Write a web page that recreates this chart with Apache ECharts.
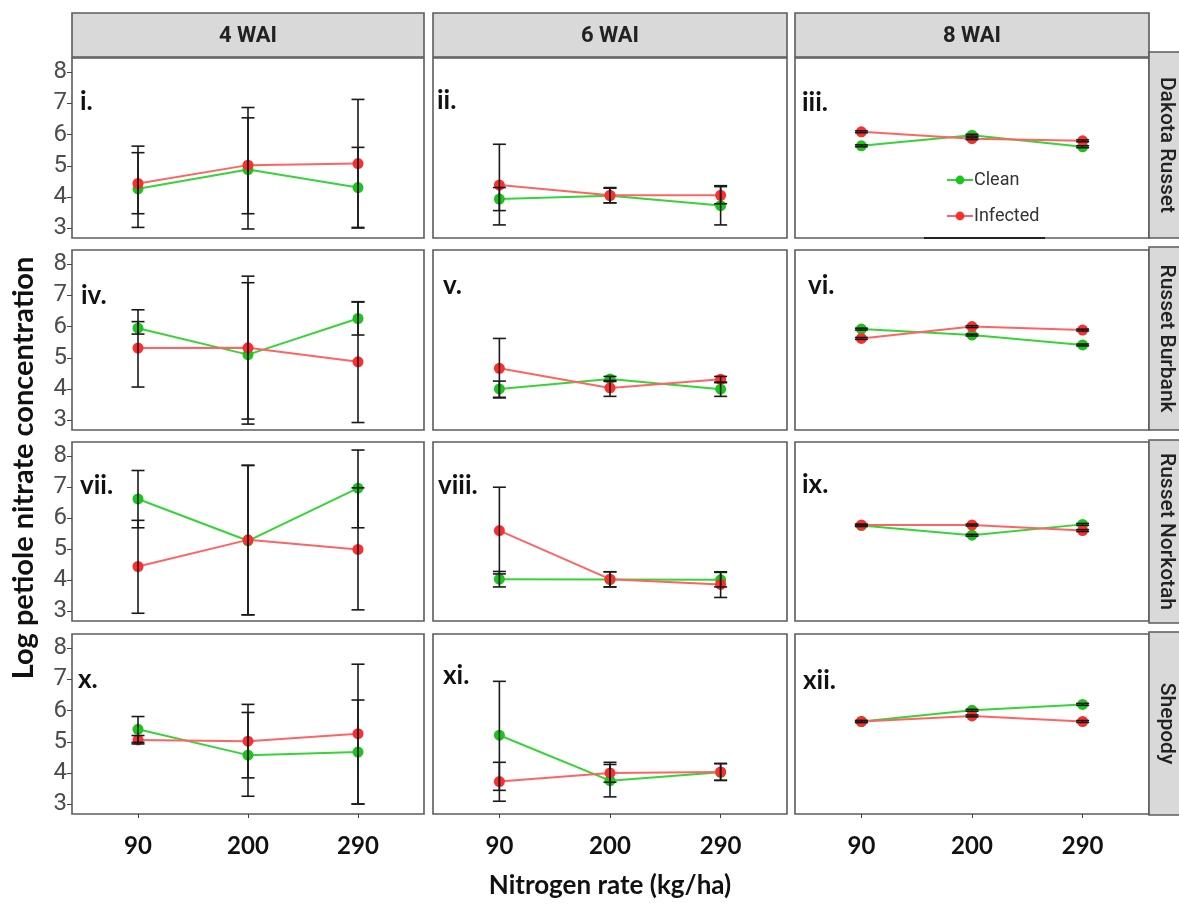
<!DOCTYPE html>
<html>
<head>
<meta charset="utf-8">
<script src="https://cdn.jsdelivr.net/npm/echarts@6/dist/echarts.min.js"></script>
<style>
html,body{margin:0;padding:0;background:#fff;}
#chart{width:1179px;height:905px;}
</style>
</head>
<body>
<div id="chart"></div>
<script>
// ---------- DATA ----------
const nitrogenLabels = ['90', '200', '290'];
const weekLabels = ['4 WAI', '6 WAI', '8 WAI'];
const cultivars = ['Dakota Russet', 'Russet Burbank', 'Russet Norkotah', 'Shepody'];
const panelLabels = ['i.', 'ii.', 'iii.', 'iv.', 'v.', 'vi.', 'vii.', 'viii.', 'ix.', 'x.', 'xi.', 'xii.'];
const yTicks = [3, 4, 5, 6, 7, 8];
const seriesNames = ['Clean', 'Infected'];

// panel order: row-major (cultivar rows, WAI columns); values at N = 90, 200, 290
const cleanMean = [
  [4.26, 4.88, 4.30], [3.93, 4.04, 3.72], [5.64, 5.98, 5.61],
  [5.95, 5.10, 6.26], [4.00, 4.32, 3.99], [5.92, 5.73, 5.41],
  [6.62, 5.27, 6.97], [4.03, 4.02, 4.01], [5.76, 5.45, 5.80],
  [5.40, 4.57, 4.67], [5.21, 3.75, 4.02], [5.65, 6.01, 6.20]
];
const infectedMean = [
  [4.43, 5.02, 5.07], [4.38, 4.05, 4.05], [6.09, 5.87, 5.80],
  [5.31, 5.32, 4.87], [4.66, 4.03, 4.31], [5.62, 6.00, 5.89],
  [4.44, 5.30, 4.99], [5.60, 4.03, 3.86], [5.78, 5.78, 5.60],
  [5.06, 5.02, 5.26], [3.72, 4.00, 4.03], [5.65, 5.83, 5.65]
];
const cleanLow = [
  [3.02, 2.97, 3.02], [3.56, 3.81, 3.10], [5.61, 5.95, 5.58],
  [5.76, 2.87, 5.73], [3.73, 4.24, 3.76], [5.89, 5.70, 5.38],
  [5.69, 2.88, 5.69], [3.78, 3.78, 3.78], [5.73, 5.42, 5.77],
  [4.98, 3.25, 3.00], [3.44, 3.23, 3.76], [5.62, 5.98, 6.17]
];
const cleanHigh = [
  [5.42, 6.87, 5.59], [4.30, 4.28, 4.33], [5.67, 6.01, 5.64],
  [6.16, 7.41, 6.79], [4.25, 4.40, 4.20], [5.95, 5.76, 5.44],
  [7.54, 7.70, 8.20], [4.28, 4.27, 4.27], [5.79, 5.48, 5.83],
  [5.81, 5.94, 6.34], [6.94, 4.27, 4.30], [5.68, 6.04, 6.23]
];
const infectedLow = [
  [3.46, 3.46, 3.00], [3.10, 3.81, 3.78], [6.06, 5.84, 5.77],
  [4.06, 3.03, 2.92], [3.71, 3.76, 4.22], [5.59, 5.97, 5.86],
  [2.93, 2.88, 3.04], [4.20, 3.78, 3.44], [5.75, 5.75, 5.57],
  [4.93, 3.84, 3.00], [3.09, 3.70, 3.76], [5.62, 5.80, 5.62]
];
const infectedHigh = [
  [5.63, 6.54, 7.13], [5.69, 4.30, 4.36], [6.12, 5.90, 5.83],
  [6.54, 7.62, 6.80], [5.62, 4.27, 4.40], [5.65, 6.03, 5.92],
  [5.93, 7.71, 6.98], [7.00, 4.27, 4.25], [5.81, 5.81, 5.63],
  [5.20, 6.20, 7.49], [4.34, 4.34, 4.30], [5.68, 5.86, 5.68]
];

// ---------- LAYOUT / STYLE ----------
const colX = [[72, 424], [433, 787], [795, 1149]];
const rowY = [[58, 238], [250, 430], [442, 621], [634, 814]];
const stripRowY = [[52, 238], [247, 430], [440, 623], [632, 815]];
const labelPos = [
  [80, 89], [437, 88], [802, 90],
  [81, 283], [443, 273], [808, 273],
  [80, 473], [438, 473], [802, 472],
  [78, 667], [443, 663], [803, 668]
];
const NARROW = "Roboto, 'Liberation Sans', sans-serif";
const BOLD = "Lato, 'Open Sans', sans-serif";
const GREEN = '#1cc41c', RED = '#ff2d2d';
const GREEN_LINE = '#36d436', RED_LINE = '#ff6464';

function errRender(params, api) {
  const x = api.value(0), lo = api.value(1), hi = api.value(2);
  const pH = api.coord([x, hi]);
  const pL = api.coord([x, lo]);
  const hw = 6.5;
  const st = { stroke: '#1a1a1a', lineWidth: 1.6 };
  return {
    type: 'group',
    children: [
      { type: 'line', shape: { x1: pH[0], y1: pH[1], x2: pL[0], y2: pL[1] }, style: st },
      { type: 'line', shape: { x1: pH[0] - hw, y1: pH[1], x2: pH[0] + hw, y2: pH[1] }, style: st },
      { type: 'line', shape: { x1: pL[0] - hw, y1: pL[1], x2: pL[0] + hw, y2: pL[1] }, style: st }
    ]
  };
}

const grids = [], xAxes = [], yAxes = [], series = [], graphics = [];

for (let r = 0; r < 4; r++) {
  for (let c = 0; c < 3; c++) {
    const i = r * 3 + c;
    grids.push({
      left: colX[c][0], top: rowY[r][0],
      width: colX[c][1] - colX[c][0], height: rowY[r][1] - rowY[r][0],
      show: true, backgroundColor: '#ffffff', borderColor: '#5c5c5c', borderWidth: 1.6
    });
    const bottom = r === 3, leftCol = c === 0;
    xAxes.push({
      type: 'value', gridIndex: i, min: 0.4, max: 3.6,
      axisLine: { show: false }, splitLine: { show: false },
      axisTick: { show: bottom, customValues: [1, 2, 3], length: 4, lineStyle: { color: '#444' } },
      axisLabel: {
        show: bottom, customValues: [1, 2, 3], margin: 20,
        formatter: v => nitrogenLabels[Math.round(v) - 1],
        fontFamily: BOLD, fontWeight: 'bold', fontSize: 24, color: '#111'
      }
    });
    yAxes.push({
      type: 'value', gridIndex: i, min: 2.68, max: 8.46,
      axisLine: { show: false }, splitLine: { show: false },
      axisTick: { show: leftCol, customValues: yTicks, length: 5, lineStyle: { color: '#444' } },
      axisLabel: {
        show: leftCol, customValues: yTicks, margin: 5,
        fontFamily: NARROW, fontSize: 24, color: '#4d4d4d'
      }
    });
    const mk = (arr) => arr[i].map((v, k) => [k + 1, v]);
    const ek = (lo, hi) => lo[i].map((v, k) => [k + 1, v, hi[i][k]]);
    series.push({
      type: 'line', name: seriesNames[0], xAxisIndex: i, yAxisIndex: i,
      data: mk(cleanMean), symbol: 'circle', symbolSize: 11, z: 2,
      lineStyle: { color: GREEN_LINE, width: 2 }, itemStyle: { color: GREEN },
      animation: false
    });
    series.push({
      type: 'line', name: seriesNames[1], xAxisIndex: i, yAxisIndex: i,
      data: mk(infectedMean), symbol: 'circle', symbolSize: 11, z: 3,
      lineStyle: { color: RED_LINE, width: 2 }, itemStyle: { color: RED },
      animation: false
    });
    series.push({
      type: 'custom', xAxisIndex: i, yAxisIndex: i, renderItem: errRender,
      data: ek(cleanLow, cleanHigh), encode: { x: 0, y: [1, 2] }, z: 5, animation: false, silent: true
    });
    series.push({
      type: 'custom', xAxisIndex: i, yAxisIndex: i, renderItem: errRender,
      data: ek(infectedLow, infectedHigh), encode: { x: 0, y: [1, 2] }, z: 5, animation: false, silent: true
    });
    graphics.push({
      type: 'text', x: labelPos[i][0], y: labelPos[i][1], z: 20,
      style: { text: panelLabels[i], fontFamily: BOLD, fontWeight: 'bold', fontSize: 26, fill: '#111',
               align: 'left', verticalAlign: 'alphabetic' }
    });
  }
}

// column strips
for (let c = 0; c < 3; c++) {
  graphics.push({
    type: 'rect', z: 10,
    shape: { x: colX[c][0], y: 13, width: colX[c][1] - colX[c][0], height: 44 },
    style: { fill: '#d9d9d9', stroke: '#5c5c5c', lineWidth: 1.6 }
  });
  graphics.push({
    type: 'text', z: 11, x: (colX[c][0] + colX[c][1]) / 2, y: 36,
    style: { text: weekLabels[c], fontFamily: NARROW, fontSize: 22, fontWeight: 'bold', fill: '#222',
             align: 'center', verticalAlign: 'middle' }
  });
}
// row strips
for (let r = 0; r < 4; r++) {
  graphics.push({
    type: 'rect', z: 10,
    shape: { x: 1149, y: stripRowY[r][0], width: 40, height: stripRowY[r][1] - stripRowY[r][0] },
    style: { fill: '#d9d9d9', stroke: '#5c5c5c', lineWidth: 1.6 }
  });
  graphics.push({
    type: 'text', z: 11, x: 1166, y: (stripRowY[r][0] + stripRowY[r][1]) / 2, rotation: -Math.PI / 2,
    style: { text: cultivars[r], fontFamily: NARROW, fontSize: 21, fontWeight: 500, fill: '#222',
             align: 'center', verticalAlign: 'middle' }
  });
}
// axis titles
graphics.push({
  type: 'text', z: 11, x: 610, y: 886,
  style: { text: 'Nitrogen rate (kg/ha)', fontFamily: BOLD, fontWeight: 'bold', fontSize: 26, fill: '#111',
           align: 'center', verticalAlign: 'middle' }
});
graphics.push({
  type: 'text', z: 11, x: 24, y: 468, rotation: Math.PI / 2,
  style: { text: 'Log petiole nitrate concentration', fontFamily: BOLD, fontWeight: 'bold', fontSize: 29, fill: '#111',
           align: 'center', verticalAlign: 'middle' }
});
// small dark rule under panel iii
graphics.push({
  type: 'line', z: 12, shape: { x1: 924, y1: 238, x2: 1045, y2: 238 },
  style: { stroke: '#222', lineWidth: 2 }
});

const chart = echarts.init(document.getElementById('chart'), null, { renderer: 'canvas' });
chart.setOption({
  backgroundColor: '#ffffff',
  animation: false,
  grid: grids,
  xAxis: xAxes,
  yAxis: yAxes,
  series: series,
  legend: {
    data: seriesNames, orient: 'vertical', left: 941, top: 166, itemGap: 18,
    itemWidth: 26, itemHeight: 11, selectedMode: false,
    textStyle: { fontFamily: NARROW, fontSize: 18, color: '#333', padding: [0, 0, 0, -4] }
  },
  graphic: graphics
});
</script>
</body>
</html>
